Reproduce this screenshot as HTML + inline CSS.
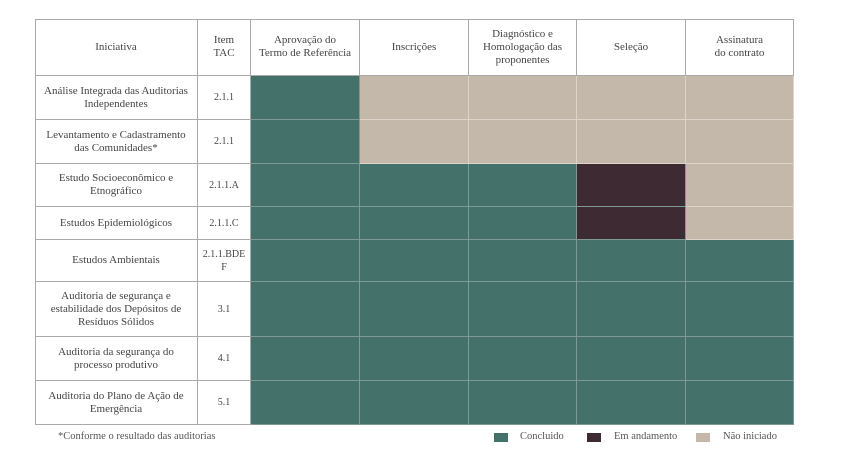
<!DOCTYPE html>
<html><head><meta charset="utf-8"><style>
body{margin:0;width:842px;height:474px;background:#fff;position:relative;overflow:hidden;font-family:"Liberation Serif",serif;color:#444;}
#t{position:absolute;left:0;top:0;}
.frame{position:absolute;left:35px;top:19px;width:759px;height:406px;box-sizing:border-box;border-left:1px solid #aaa;border-top:1px solid #aaa;}
.c{position:absolute;box-sizing:border-box;border-right:1px solid #aaa;border-bottom:1px solid #aaa;display:flex;align-items:center;justify-content:center;text-align:center;font-size:11px;line-height:13px;}
.G{background:#44726a;border-color:#7f9994}
.D{background:#3e2a33;border-color:#7f9994}
.B{background:#c4b8aa;border-color:#ddd5cb}
.l{position:absolute;font-size:10.5px;color:#555;}
.s{position:absolute;width:14px;height:9px;}
</style></head><body>
<div id="t"></div>
<div class="l" style="left:58px;top:431px;">*Conforme o resultado das auditorias</div>
<div class="s" style="left:494px;top:433px;background:#44726a"></div><div class="l" style="left:520px;top:431px;">Concluido</div>
<div class="s" style="left:587px;top:433px;background:#3e2a33"></div><div class="l" style="left:614px;top:431px;">Em andamento</div>
<div class="s" style="left:696px;top:433px;background:#c4b8aa"></div><div class="l" style="left:723px;top:431px;">Não iniciado</div>
<script>
var xs=[35,198,251,360,469,577,686,794],ys=[19,76,120,164,207,240,282,337,381,425];
var hdr=["Iniciativa","Item<br>TAC","Aprovação do<br>Termo de Referência","Inscrições","Diagnóstico e<br>Homologação das<br>proponentes","Seleção","Assinatura<br>do contrato"];
var rows=[["Análise Integrada das Auditorias<br>Independentes","2.1.1","GBBBB"],
["Levantamento e Cadastramento<br>das Comunidades*","2.1.1","GBBBB"],
["Estudo Socioeconômico e<br>Etnográfico","2.1.1.A","GGGDB"],
["Estudos Epidemiológicos","2.1.1.C","GGGDB"],
["Estudos Ambientais","2.1.1.BDE<br>F","GGGGG"],
["Auditoria de segurança e<br>estabilidade dos Depósitos de<br>Resíduos Sólidos","3.1","GGGGG"],
["Auditoria da segurança do<br>processo produtivo","4.1","GGGGG"],
["Auditoria do Plano de Ação de<br>Emergência","5.1","GGGGG"]];
var h='<div class="frame"></div>';
function cell(c,r,cls,txt){h+='<div class="c '+cls+'" style="left:'+xs[c]+'px;top:'+ys[r]+'px;width:'+(xs[c+1]-xs[c])+'px;height:'+(ys[r+1]-ys[r])+'px">'+txt+'</div>';}
for(var c=0;c<7;c++)cell(c,0,"",hdr[c]);
rows.forEach(function(row,i){cell(0,i+1,"",row[0]);cell(1,i+1,"",'<span style="font-size:10px">'+row[1]+'</span>');for(var k=0;k<5;k++)cell(k+2,i+1,row[2][k],"");});
h+='<div class="frame" style="border-color:#aaa;pointer-events:none"></div>';
document.getElementById("t").innerHTML=h;
</script>
</body></html>
